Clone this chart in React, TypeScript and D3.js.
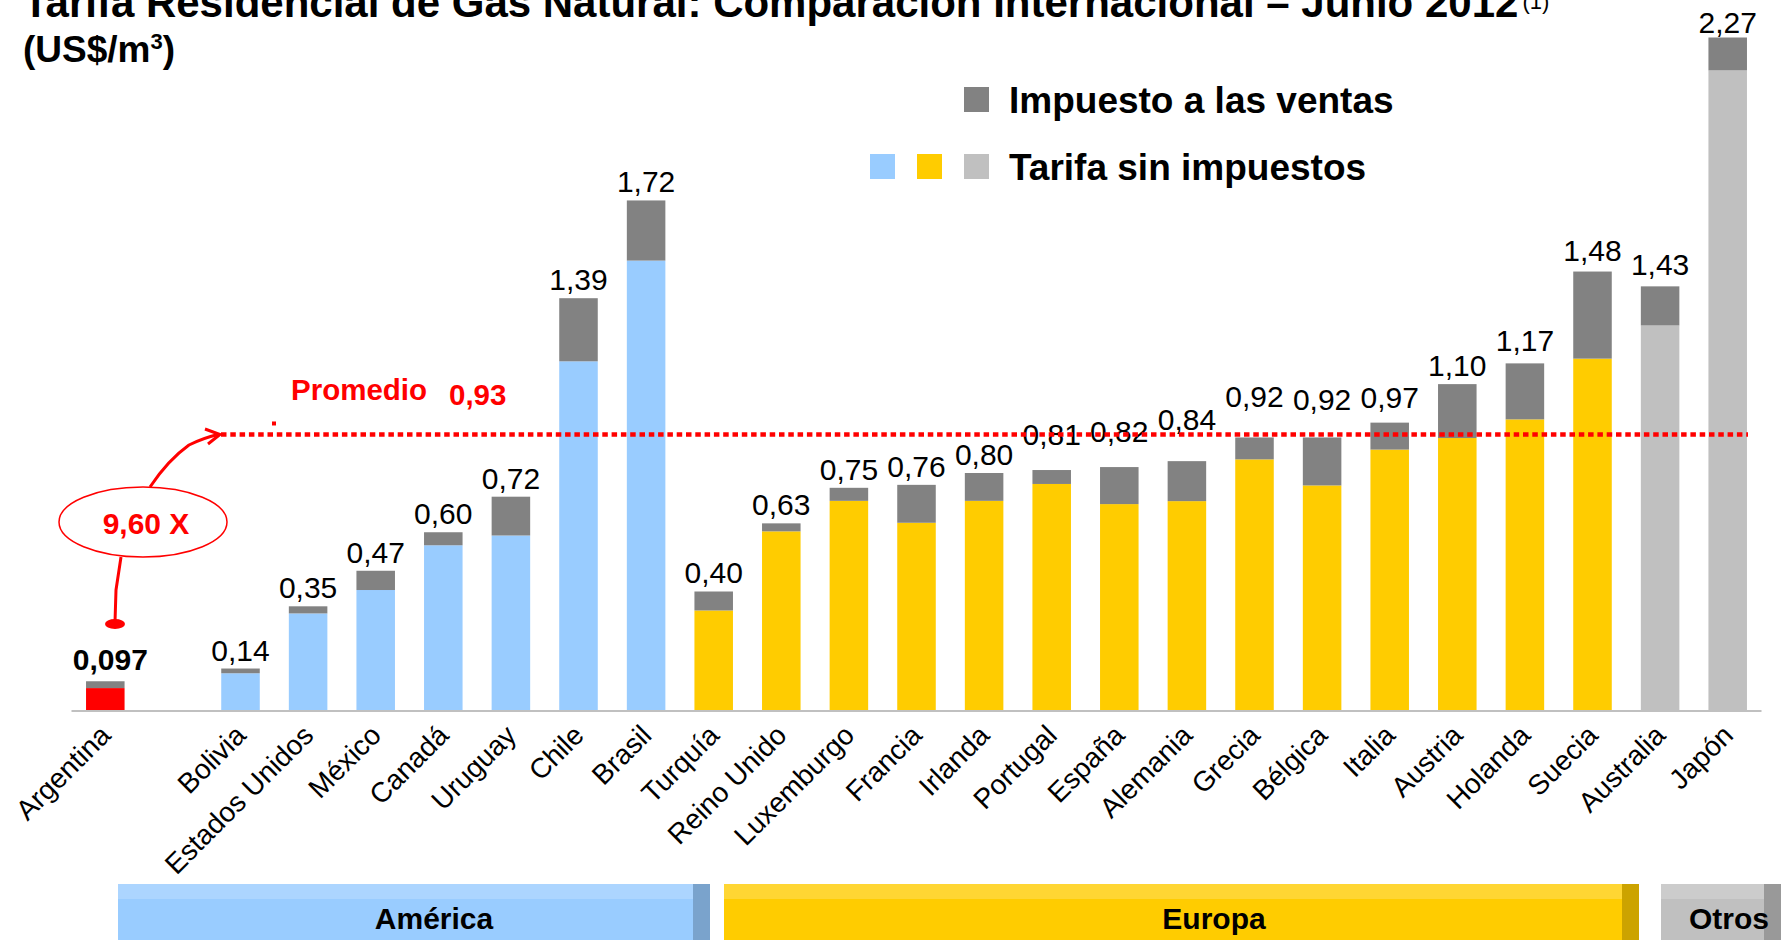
import React, { useEffect, useRef } from "react";
import * as d3 from "d3";

// datos (US$/m3)
const paises = ["Argentina", "Bolivia", "Estados Unidos", "México", "Canadá", "Uruguay", "Chile", "Brasil",
  "Turquía", "Reino Unido", "Luxemburgo", "Francia", "Irlanda", "Portugal", "España", "Alemania", "Grecia",
  "Bélgica", "Italia", "Austria", "Holanda", "Suecia", "Australia", "Japón"];
const regiones = ["Argentina", "América", "América", "América", "América", "América", "América", "América",
  "Europa", "Europa", "Europa", "Europa", "Europa", "Europa", "Europa", "Europa", "Europa",
  "Europa", "Europa", "Europa", "Europa", "Europa", "Otros", "Otros"];
const sinImpuestos = [0.074, 0.124, 0.326, 0.405, 0.556, 0.589, 1.177, 1.517,
  0.336, 0.603, 0.706, 0.632, 0.706, 0.763, 0.695, 0.705, 0.846,
  0.758, 0.879, 0.918, 0.981, 1.186, 1.298, 2.159];
const impuestos = [0.023, 0.016, 0.024, 0.065, 0.044, 0.131, 0.213, 0.203,
  0.064, 0.027, 0.044, 0.128, 0.094, 0.047, 0.125, 0.135, 0.074,
  0.162, 0.091, 0.182, 0.189, 0.294, 0.132, 0.111];
const etiquetas = ["0,097", "0,14", "0,35", "0,47", "0,60", "0,72", "1,39", "1,72",
  "0,40", "0,63", "0,75", "0,76", "0,80", "0,81", "0,82", "0,84", "0,92",
  "0,92", "0,97", "1,10", "1,17", "1,48", "1,43", "2,27"];
const promedio = 0.93;
const promedioTexto = "0,93";
const vecesTexto = "9,60 X";
const grupos = ["América", "Europa", "Otros"];

const W = 1781;
const H = 940;
const FONT = "'Liberation Sans', Arial, Helvetica, sans-serif";

const colores: Record<string, string> = {
  Argentina: "#ff0000", América: "#99ccff", Europa: "#ffcc00", Otros: "#c0c0c0"
};
const colorImpuesto = "#828282";
const rojo = "#ff0000";

// cuanto sube cada etiqueta por encima de su barra (px)
const subirEtiqueta: Record<string, number> = {
  Portugal: 25, España: 25, Alemania: 31, Grecia: 30, Bélgica: 27, Italia: 15,
  Holanda: 12, Suecia: 11, Australia: 11, Japón: 5, Argentina: 11
};

// bandas de region abajo
const bandas = [
  { x0: 118, x1: 710, tx: 434, top: "#acd5ff", main: "#99ccff", dark: "#7aa3cc" },
  { x0: 724, x1: 1639, tx: 1214, top: "#ffd633", main: "#ffcc00", dark: "#cca300" },
  { x0: 1661, x1: 1781, tx: 1729, top: "#cccccc", main: "#c0c0c0", dark: "#999999" }
];

export default function App() {
  const ref = useRef<SVGSVGElement>(null);

  useEffect(() => {
    document.body.style.margin = "0";
    const svg = d3.select(ref.current);
    svg.selectAll("*").remove();

    const baseline = 710;
    const slots = [paises[0], "_hueco", ...paises.slice(1)];
    const x = d3.scaleBand<string>().domain(slots).range([71.5, 1761.5])
      .paddingInner(0.43).paddingOuter(0.215);
    const y = d3.scaleLinear().domain([0, 2.27]).range([baseline, 37.5]);

    const datos = paises.map((p, i) => ({
      pais: p, region: regiones[i], base: sinImpuestos[i], imp: impuestos[i], etiqueta: etiquetas[i]
    }));

    // titulo (cortado arriba como en el original)
    const titulo = svg.append("text")
      .attr("x", 23).attr("y", 17)
      .attr("font-family", FONT).attr("font-weight", "bold").attr("font-size", 42)
      .text("Tarifa Residencial de Gas Natural: Comparación Internacional – Junio 2012");
    titulo.append("tspan").attr("font-size", 22).attr("font-weight", "normal").attr("dy", -8).attr("dx", 4).text("(1)");
    const sub = svg.append("text")
      .attr("x", 23).attr("y", 62)
      .attr("font-family", FONT).attr("font-weight", "bold").attr("font-size", 37)
      .text("(US$/m");
    sub.append("tspan").attr("font-size", 22).attr("dy", -13).text("3");
    sub.append("tspan").attr("dy", 13).text(")");

    // leyenda
    svg.append("rect").attr("x", 964).attr("y", 87).attr("width", 25).attr("height", 25).attr("fill", colorImpuesto);
    svg.append("text").attr("x", 1009).attr("y", 113)
      .attr("font-family", FONT).attr("font-weight", "bold").attr("font-size", 37)
      .text("Impuesto a las ventas");
    [colores["América"], colores["Europa"], colores["Otros"]].forEach((c, i) => {
      svg.append("rect").attr("x", 870 + i * 47).attr("y", 154).attr("width", 25).attr("height", 25).attr("fill", c);
    });
    svg.append("text").attr("x", 1009).attr("y", 180)
      .attr("font-family", FONT).attr("font-weight", "bold").attr("font-size", 37)
      .text("Tarifa sin impuestos");

    const g = svg.append("g");

    // barras apiladas
    g.selectAll(".base").data(datos).enter().append("rect")
      .attr("x", d => x(d.pais) as number)
      .attr("width", x.bandwidth())
      .attr("y", d => y(d.base))
      .attr("height", d => baseline - y(d.base))
      .attr("fill", d => colores[d.region]);
    g.selectAll(".imp").data(datos).enter().append("rect")
      .attr("x", d => x(d.pais) as number)
      .attr("width", x.bandwidth())
      .attr("y", d => y(d.base + d.imp))
      .attr("height", d => y(d.base) - y(d.base + d.imp))
      .attr("fill", colorImpuesto);

    // etiquetas de valor
    g.selectAll(".lbl").data(datos).enter().append("text")
      .attr("x", d => (x(d.pais) as number) + x.bandwidth() / 2 + (d.pais === "Argentina" ? 5 : 0))
      .attr("y", d => y(d.base + d.imp) - (subirEtiqueta[d.pais] ?? 8))
      .attr("text-anchor", "middle")
      .attr("font-family", FONT).attr("font-size", 30)
      .attr("font-weight", d => d.pais === "Argentina" ? "bold" : "normal")
      .text(d => d.etiqueta);

    // eje x
    g.append("line").attr("x1", x.range()[0]).attr("x2", x.range()[1])
      .attr("y1", baseline + 1).attr("y2", baseline + 1)
      .attr("stroke", "#c0c0c0").attr("stroke-width", 2);
    g.selectAll(".tick").data(datos).enter().append("text")
      .attr("transform", d => `translate(${(x(d.pais) as number) + x.bandwidth() / 2 + 7},737) rotate(-45)`)
      .attr("text-anchor", "end")
      .attr("font-family", FONT).attr("font-size", 28)
      .text(d => d.pais);

    // linea de promedio
    const yp = y(promedio);
    g.append("line").attr("x1", 221).attr("x2", 1748).attr("y1", yp).attr("y2", yp)
      .attr("stroke", rojo).attr("stroke-width", 4.5).attr("stroke-dasharray", "5.5 3.8");
    g.append("rect").attr("x", 272).attr("y", yp - 13).attr("width", 4).attr("height", 4).attr("fill", rojo);
    g.append("text").attr("x", 291).attr("y", 400)
      .attr("font-family", FONT).attr("font-weight", "bold").attr("font-size", 29.5).attr("fill", rojo)
      .text("Promedio");
    g.append("text").attr("x", 449).attr("y", 405)
      .attr("font-family", FONT).attr("font-weight", "bold").attr("font-size", 29.5).attr("fill", rojo)
      .text(promedioTexto);

    // anotacion 9,60 X
    g.append("path")
      .attr("d", `M150,487 Q168,460 189,445 Q203,438 218,${yp}`)
      .attr("fill", "none").attr("stroke", rojo).attr("stroke-width", 3);
    g.append("path")
      .attr("d", `M205,429 L220,${yp} L208,444`)
      .attr("fill", "none").attr("stroke", rojo).attr("stroke-width", 3);
    g.append("ellipse").attr("cx", 143).attr("cy", 522).attr("rx", 84).attr("ry", 35)
      .attr("fill", "none").attr("stroke", rojo).attr("stroke-width", 1.5);
    g.append("text").attr("x", 146).attr("y", 534).attr("text-anchor", "middle")
      .attr("font-family", FONT).attr("font-weight", "bold").attr("font-size", 30).attr("fill", rojo)
      .text(vecesTexto);
    g.append("path")
      .attr("d", "M121,557 L116,590 L115,622")
      .attr("fill", "none").attr("stroke", rojo).attr("stroke-width", 3);
    g.append("ellipse").attr("cx", 115).attr("cy", 624).attr("rx", 10).attr("ry", 5).attr("fill", rojo);

    // bandas de region
    bandas.forEach((b, i) => {
      svg.append("rect").attr("x", b.x0).attr("y", 884).attr("width", b.x1 - b.x0).attr("height", 56).attr("fill", b.main);
      svg.append("rect").attr("x", b.x0).attr("y", 884).attr("width", b.x1 - b.x0).attr("height", 15).attr("fill", b.top);
      svg.append("rect").attr("x", b.x1 - 17).attr("y", 884).attr("width", 17).attr("height", 56).attr("fill", b.dark);
      svg.append("text").attr("x", b.tx).attr("y", 929).attr("text-anchor", "middle")
        .attr("font-family", FONT).attr("font-weight", "bold").attr("font-size", 30)
        .text(grupos[i]);
    });
  }, []);

  return (
    <svg ref={ref} width={W} height={H}
      style={{ position: "absolute", left: 0, top: 0, background: "#fff", display: "block" }} />
  );
}
